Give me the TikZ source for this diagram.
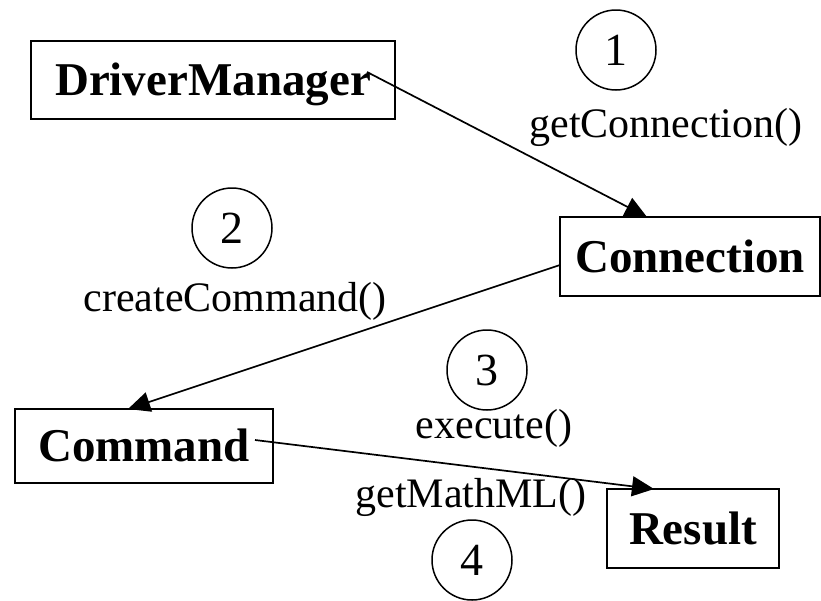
\documentclass[tikz,border=0pt]{standalone}
\usepackage{fontspec}
\setmainfont{Liberation Serif}
\usetikzlibrary{arrows.meta}
\begin{document}
\begin{tikzpicture}[x=1pt,y=-1pt,
  box/.style={draw, line width=2pt, inner sep=0pt,
    font=\fontsize{47}{50}\selectfont\bfseries, text height=31pt, text depth=0pt},
  num/.style={draw, circle, line width=1.5pt, minimum size=80pt, inner sep=0pt,
    font=\fontsize{46}{48}\selectfont},
  lbl/.style={anchor=base, inner sep=0pt, font=\fontsize{42}{44}\selectfont},
  conn/.style={line width=1.7pt, -{Triangle[length=22pt,width=20pt]}}]
\useasboundingbox (0,0) rectangle (821,600);
% boxes
\node[box, minimum width=364pt, minimum height=78pt] (dm) at (213,80) {DriverManager};
\node[box, minimum width=260pt, minimum height=79pt] (cn) at (690,256.5) {Connection};
\node[box, minimum width=258pt, minimum height=74pt] (cm) at (144,446) {Command};
\node[box, minimum width=172pt, minimum height=79pt] (rs) at (693,528.5) {Result};
% numbered circles
\node[num] (n1) at (616,50) {1};
\node[num] (n2) at (232,228) {2};
\node[num] (n3) at (487,370) {3};
\node[num] (n4) at (472,560) {4};
% labels
\node[lbl] (l1) at (666,137) {getConnection()};
\node[lbl] (l2) at (235,311) {createCommand()};
\node[lbl] (l3) at (494,438) {execute()};
\node[lbl] (l4) at (471,507) {getMathML()};
% connector end points
\coordinate (a1s) at (367,72);
\coordinate (a1e) at (647,217);
\coordinate (a2s) at (560,265);
\coordinate (a2e) at (128,409);
\coordinate (a3s) at (255,440);
\coordinate (a3e) at (654,489);
\draw[conn] (a1s) -- (a1e);
\draw[conn] (a2s) -- (a2e);
\draw[conn] (a3s) -- (a3e);
\end{tikzpicture}
\end{document}
